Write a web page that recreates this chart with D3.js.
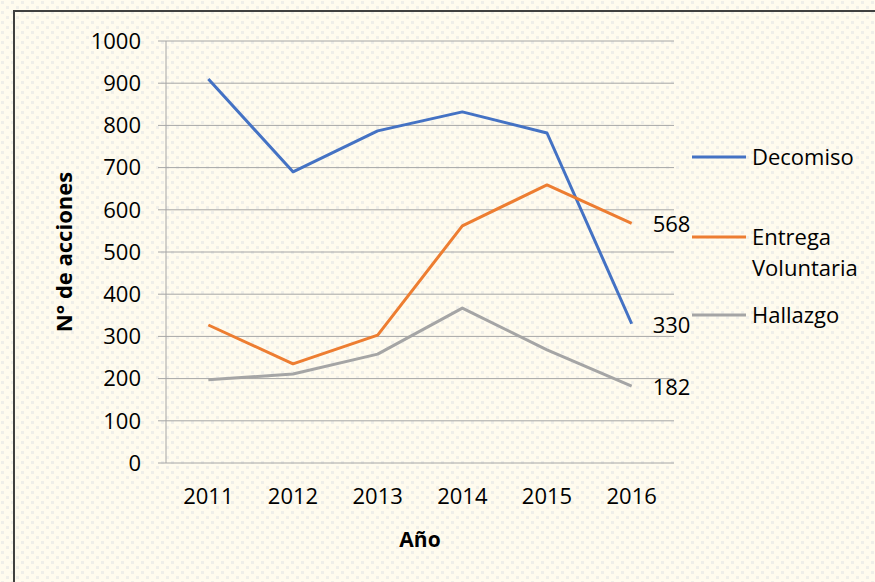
<!DOCTYPE html>
<meta charset="utf-8">
<style>
body { margin: 0; }
svg text { font-family: "Open Sans", sans-serif; fill: #000; }
.grid line { stroke: #a6a6a6; stroke-width: 1px; }
.line { fill: none; stroke-width: 3px; stroke-linejoin: round; }
</style>
<body>
<script src="https://d3js.org/d3.v7.min.js"></script>
<script>

// data
var years = ["2011", "2012", "2013", "2014", "2015", "2016"];
var decomiso = [910, 690, 787, 832, 782, 330];
var entrega = [327, 235, 303, 562, 659, 568];
var hallazgo = [197, 211, 258, 367, 268, 182];
var yTicks = [0, 100, 200, 300, 400, 500, 600, 700, 800, 900, 1000];

var series = [
  {name: ["Decomiso"], values: decomiso, color: "#4472c4", legendY: 157},
  {name: ["Entrega", "Voluntaria"], values: entrega, color: "#ed7d31", legendY: 237},
  {name: ["Hallazgo"], values: hallazgo, color: "#a5a5a5", legendY: 315}
];

var W = 875, H = 582;
var plot = {left: 166, right: 674, top: 41, bottom: 463};

var svg = d3.select("body").append("svg")
    .attr("width", W)
    .attr("height", H);

// background with dotted texture
var pat = svg.append("defs").append("pattern")
    .attr("id", "dots")
    .attr("width", 10).attr("height", 10)
    .attr("patternUnits", "userSpaceOnUse");
pat.append("rect").attr("width", 10).attr("height", 10).attr("fill", "#fffbee");
pat.append("rect").attr("x", 1).attr("y", 1).attr("width", 3).attr("height", 3).attr("fill", "#efeee9");
pat.append("rect").attr("x", 6).attr("y", 6).attr("width", 3).attr("height", 3).attr("fill", "#efeee9");

svg.append("rect").attr("width", W).attr("height", H).attr("fill", "url(#dots)");

// chart frame (runs off the page)
svg.append("rect")
    .attr("x", 14).attr("y", 11)
    .attr("width", W).attr("height", H)
    .attr("fill", "none")
    .attr("stroke", "#404040")
    .attr("stroke-width", 2);

var x = d3.scalePoint().domain(years).range([plot.left, plot.right]).padding(0.5);
var y = d3.scaleLinear().domain([0, 1000]).range([plot.bottom, plot.top]);

// horizontal gridlines + y ticks
var grid = svg.append("g").attr("class", "grid");
grid.selectAll("line").data(yTicks).join("line")
    .attr("x1", plot.left - 8).attr("x2", plot.right)
    .attr("y1", d => y(d)).attr("y2", d => y(d));

// y axis line
grid.append("line")
    .attr("x1", plot.left).attr("x2", plot.left)
    .attr("y1", plot.top).attr("y2", plot.bottom);

// y tick labels
svg.append("g").selectAll("text").data(yTicks).join("text")
    .attr("x", plot.left - 25)
    .attr("y", d => y(d))
    .attr("dy", "0.35em")
    .attr("text-anchor", "end")
    .style("font-size", "22px")
    .text(d => d);

// x tick labels
svg.append("g").selectAll("text").data(years).join("text")
    .attr("x", d => x(d))
    .attr("y", plot.bottom + 41)
    .attr("text-anchor", "middle")
    .style("font-size", "22px")
    .text(d => d);

// axis titles
svg.append("text")
    .attr("x", (plot.left + plot.right) / 2)
    .attr("y", 547)
    .attr("text-anchor", "middle")
    .style("font-size", "21px")
    .style("font-weight", "bold")
    .text("Año");

svg.append("text")
    .attr("transform", "translate(72," + ((plot.top + plot.bottom) / 2) + ") rotate(-90)")
    .attr("text-anchor", "middle")
    .style("font-size", "22px")
    .style("font-weight", "bold")
    .text("N° de acciones");

// lines
var line = d3.line()
    .x((d, i) => x(years[i]))
    .y(d => y(d));

series.forEach(function(s) {
  svg.append("path")
      .datum(s.values)
      .attr("class", "line")
      .attr("stroke", s.color)
      .attr("d", line);

  // last value label
  var last = s.values[s.values.length - 1];
  svg.append("text")
      .attr("x", x(years[years.length - 1]) + 21)
      .attr("y", y(last))
      .attr("dy", "0.4em")
      .style("font-size", "22px")
      .text(last);

  // legend
  svg.append("line")
      .attr("x1", 692).attr("x2", 746)
      .attr("y1", s.legendY).attr("y2", s.legendY)
      .attr("stroke", s.color)
      .attr("stroke-width", 3);
  var t = svg.append("text")
      .attr("x", 752)
      .attr("y", s.legendY)
      .style("font-size", "22px");
  s.name.forEach(function(n, i) {
    t.append("tspan").attr("x", 752).attr("dy", i === 0 ? "0.35em" : "1.4em").text(n);
  });
});

</script>
</body>
